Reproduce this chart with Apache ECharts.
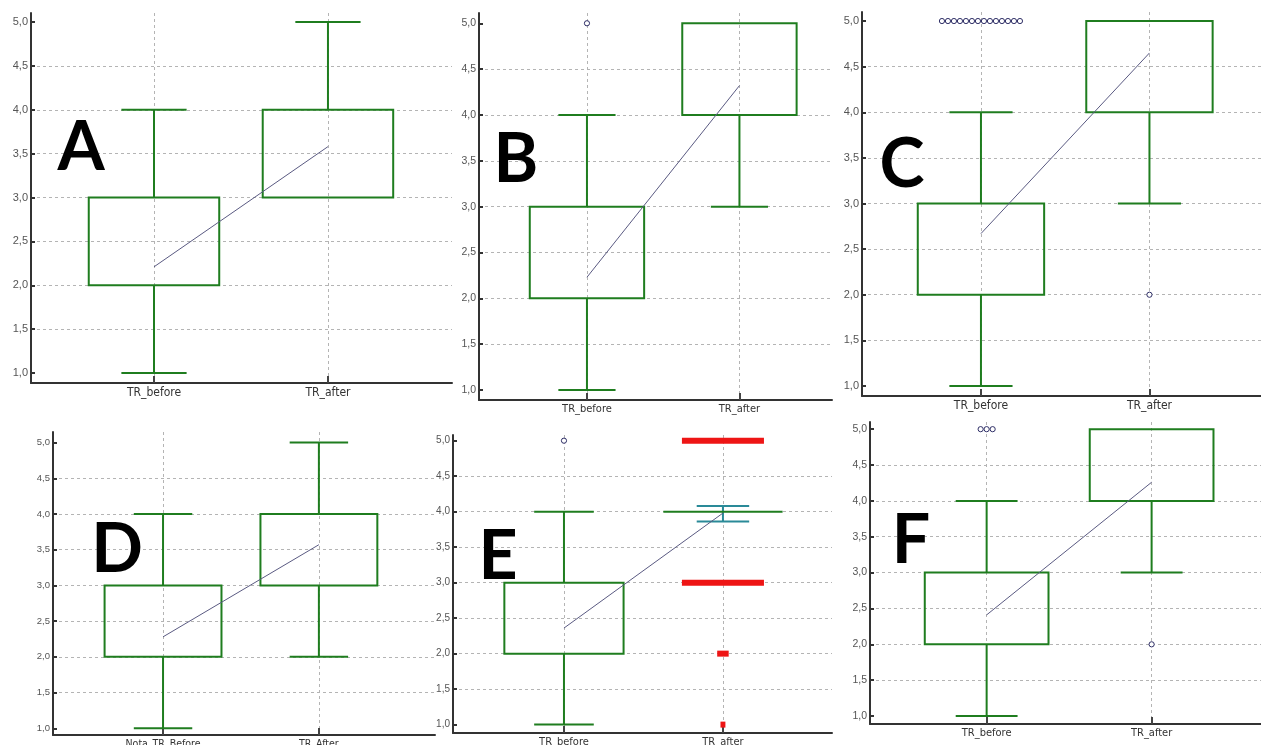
<!DOCTYPE html>
<html>
<head>
<meta charset="utf-8">
<script src="https://cdn.jsdelivr.net/npm/echarts@6/dist/echarts.min.js"></script>
<style>
html,body{margin:0;padding:0;background:#fff;}
#chart{width:1261px;height:745px;}
</style>
</head>
<body>
<div id="chart"></div>
<script>
// ---------- DATA ----------
const panelLetters = ['A', 'B', 'C', 'D', 'E', 'F'];
const categoriesA = ['TR_before', 'TR_after'];
const categoriesB = ['TR_before', 'TR_after'];
const categoriesC = ['TR_before', 'TR_after'];
const categoriesD = ['Nota_TR_Before', 'TR_After'];
const categoriesE = ['TR_before', 'TR_after'];
const categoriesF = ['TR_before', 'TR_after'];

const yTicks = [1.0, 1.5, 2.0, 2.5, 3.0, 3.5, 4.0, 4.5, 5.0];
const yTickLabels = ['1,0', '1,5', '2,0', '2,5', '3,0', '3,5', '4,0', '4,5', '5,0'];

// box stats: [lower whisker, Q1, Q3, upper whisker]
const boxA_before = [1, 2, 3, 4];
const boxA_after  = [3, 3, 4, 5];
const boxB_before = [1, 2, 3, 4];
const boxB_after  = [3, 4, 5, 5];
const boxC_before = [1, 2, 3, 4];
const boxC_after  = [3, 4, 5, 5];
const boxD_before = [1, 2, 3, 4];
const boxD_after  = [2, 3, 4, 5];
const boxE_before = [1, 2, 3, 4];
const boxE_after  = [4, 4, 4, 4];
const boxF_before = [1, 2, 3, 4];
const boxF_after  = [3, 4, 5, 5];

// means (before, after)
const meanA = [2.21, 3.58];
const meanB = [2.23, 4.32];
const meanC = [2.67, 4.65];
const meanD = [2.28, 3.57];
const meanE = [2.36, 3.98];
const meanF = [2.41, 4.26];

// outliers
const outA_before = [];
const outA_after  = [];
const outB_before = [5];
const outB_after  = [];
const outC_before = [5, 5, 5, 5, 5, 5, 5, 5, 5, 5, 5, 5, 5, 5];
const outC_after  = [2];
const outD_before = [];
const outD_after  = [];
const outE_before = [5];
const outE_after  = [];
const outF_before = [5, 5, 5];
const outF_after  = [2];

// panel E, TR_after: red frequency bars and confidence interval
const redE_values  = [5, 3, 2, 1];
const redE_weights = [1, 1, 0.14, 0.06];
const ciE_after = [3.86, 4.08];

// ---------- LAYOUT / STYLE ----------
const GREEN = '#1f7d1f';
const MEANC = '#5a5a82';
const RED = '#ee1515';
const TEAL = '#2a8a98';
const GRIDC = '#b4b4b4';

const layouts = [
  {left: 31,  top: 13,  width: 421, height: 370, xr: [0.293, 2.713], yr: [0.886, 5.103], fy: 11, fx: 12, letter: [81, 148]},
  {left: 479, top: 13,  width: 353, height: 387, xr: [0.292, 2.607], yr: [0.891, 5.112], fy: 10.5, fx: 11, letter: [516, 160]},
  {left: 862, top: 12,  width: 399, height: 384, xr: [0.294, 2.662], yr: [0.890, 5.099], fy: 11, fx: 12, letter: [902, 165]},
  {left: 53,  top: 432, width: 382, height: 303, xr: [0.294, 2.745], yr: [0.906, 5.148], fy: 9.5, fx: 10.5, letter: [117, 550]},
  {left: 453, top: 435, width: 379, height: 298, xr: [0.302, 2.686], yr: [0.882, 5.080], fy: 10, fx: 11, letter: [498, 557]},
  {left: 870, top: 422, width: 391, height: 302, xr: [0.293, 2.663], yr: [0.889, 5.100], fy: 10.5, fx: 11, letter: [911, 541]}
];

const panelData = [
  {cats: categoriesA, boxes: [boxA_before, boxA_after], mean: meanA, outs: [outA_before, outA_after]},
  {cats: categoriesB, boxes: [boxB_before, boxB_after], mean: meanB, outs: [outB_before, outB_after]},
  {cats: categoriesC, boxes: [boxC_before, boxC_after], mean: meanC, outs: [outC_before, outC_after]},
  {cats: categoriesD, boxes: [boxD_before, boxD_after], mean: meanD, outs: [outD_before, outD_after]},
  {cats: categoriesE, boxes: [boxE_before, boxE_after], mean: meanE, outs: [outE_before, outE_after]},
  {cats: categoriesF, boxes: [boxF_before, boxF_after], mean: meanF, outs: [outF_before, outF_after]}
];

const NARROW = "'Liberation Sans Narrow', 'Arial Narrow', 'DejaVu Sans Condensed', sans-serif";
const REG = "'Liberation Sans', Arial, sans-serif";

function renderBox(params, api) {
  const x = api.value(0), lo = api.value(1), q1 = api.value(2), q3 = api.value(3), hi = api.value(4);
  const hw = 0.375, cw = 0.1875;
  const st = {stroke: GREEN, lineWidth: 2, fill: null};
  const ch = [];
  const a = api.coord([x - hw, q3]), b = api.coord([x + hw, q1]);
  if (q3 > q1) {
    ch.push({type: 'rect', shape: {x: a[0], y: a[1], width: b[0] - a[0], height: b[1] - a[1]}, style: st});
  } else {
    ch.push({type: 'line', shape: {x1: a[0], y1: a[1], x2: b[0], y2: a[1]}, style: st});
  }
  const seg = (p1, p2) => ch.push({type: 'line', shape: {x1: p1[0], y1: p1[1], x2: p2[0], y2: p2[1]}, style: st});
  if (hi > q3) {
    seg(api.coord([x, q3]), api.coord([x, hi]));
    seg(api.coord([x - cw, hi]), api.coord([x + cw, hi]));
  }
  if (lo < q1) {
    seg(api.coord([x, q1]), api.coord([x, lo]));
    seg(api.coord([x - cw, lo]), api.coord([x + cw, lo]));
  }
  return {type: 'group', children: ch};
}

function renderOutlier(params, api) {
  const p = api.coord([api.value(0), api.value(1)]);
  const k = api.value(2), n = api.value(3);
  const off = (k - (n - 1) / 2) * 6;
  return {type: 'circle', shape: {cx: p[0] + off, cy: p[1], r: 2.6},
    style: {stroke: '#2e2e66', lineWidth: 1, fill: '#fff'}};
}

function renderRed(params, api) {
  const x = api.value(0), v = api.value(1), w = api.value(2) * 0.516;
  const a = api.coord([x - w / 2, v]), b = api.coord([x + w / 2, v]);
  const hgt = 6;
  return {type: 'rect', shape: {x: a[0], y: a[1] - hgt / 2, width: Math.max(b[0] - a[0], 4), height: hgt},
    style: {fill: RED}};
}

function renderCI(params, api) {
  const x = api.value(0), lo = api.value(1), hi = api.value(2);
  const cw = 0.165;
  const st = {stroke: TEAL, lineWidth: 2};
  const L = (p1, p2) => ({type: 'line', shape: {x1: p1[0], y1: p1[1], x2: p2[0], y2: p2[1]}, style: st});
  return {type: 'group', children: [
    L(api.coord([x, lo]), api.coord([x, hi])),
    L(api.coord([x - cw, lo]), api.coord([x + cw, lo])),
    L(api.coord([x - cw, hi]), api.coord([x + cw, hi]))
  ]};
}

function outlierItems(x, arr) {
  const groups = {};
  arr.forEach(v => { (groups[v] = groups[v] || []).push(v); });
  const items = [];
  Object.keys(groups).forEach(key => {
    const g = groups[key];
    g.forEach((v, k) => items.push([x, v, k, g.length]));
  });
  return items;
}

const grids = [], xAxes = [], yAxes = [], series = [], graphics = [];

layouts.forEach((L, i) => {
  const P = panelData[i];
  grids.push({left: L.left, top: L.top, width: L.width, height: L.height, containLabel: false, outerBoundsMode: 'none'});
  xAxes.push({
    type: 'value', gridIndex: i, min: L.xr[0], max: L.xr[1],
    axisLine: {show: true, onZero: false, lineStyle: {color: '#333', width: 2}},
    axisTick: {show: true, inside: true, length: 7, customValues: [1, 2], lineStyle: {color: '#444', width: 2}},
    axisLabel: {customValues: [1, 2], formatter: v => P.cats[Math.round(v) - 1], color: '#333',
      fontSize: L.fx, fontFamily: NARROW, margin: 4},
    splitLine: {show: true, lineStyle: {color: GRIDC, type: [3, 3], width: 1}}
  });
  yAxes.push({
    type: 'value', gridIndex: i, min: L.yr[0], max: L.yr[1],
    axisLine: {show: true, onZero: false, lineStyle: {color: '#333', width: 2}},
    axisTick: {show: true, inside: true, length: 4, customValues: yTicks, lineStyle: {color: '#333', width: 2}},
    axisLabel: {customValues: yTicks, formatter: v => yTickLabels[yTicks.indexOf(Math.round(v * 2) / 2)],
      color: '#555', fontSize: L.fy, fontFamily: REG, margin: 3},
    splitLine: {show: true, showMinLine: false, showMaxLine: false, lineStyle: {color: GRIDC, type: [3, 3], width: 1}}
  });
  series.push({
    type: 'custom', xAxisIndex: i, yAxisIndex: i, renderItem: renderBox, z: 3, silent: true,
    data: P.boxes.map((b, k) => [k + 1].concat(b))
  });
  series.push({
    type: 'line', xAxisIndex: i, yAxisIndex: i, symbol: 'none', z: 4, silent: true,
    lineStyle: {color: MEANC, width: 1},
    data: P.mean.map((m, k) => [k + 1, m])
  });
  const outs = outlierItems(1, P.outs[0]).concat(outlierItems(2, P.outs[1]));
  if (outs.length) {
    series.push({type: 'custom', xAxisIndex: i, yAxisIndex: i, renderItem: renderOutlier, z: 5, silent: true, data: outs});
  }
  graphics.push({
    type: 'text', x: L.letter[0], y: L.letter[1], z: 100,
    style: {text: panelLetters[i], font: "bold 68px Lato, 'Liberation Sans', sans-serif", fill: '#000',
      textAlign: 'center', textVerticalAlign: 'middle',
      shadowBlur: 5, shadowColor: 'rgba(0,0,0,0.35)', shadowOffsetX: 3, shadowOffsetY: 3}
  });
});

// panel E extras
series.push({
  type: 'custom', xAxisIndex: 4, yAxisIndex: 4, renderItem: renderRed, z: 6, silent: true,
  data: redE_values.map((v, k) => [2, v, redE_weights[k]])
});
series.push({
  type: 'custom', xAxisIndex: 4, yAxisIndex: 4, renderItem: renderCI, z: 2, silent: true,
  data: [[2, ciE_after[0], ciE_after[1]]]
});

const chart = echarts.init(document.getElementById('chart'), null, {renderer: 'canvas'});
chart.setOption({
  animation: false,
  backgroundColor: '#fff',
  grid: grids, xAxis: xAxes, yAxis: yAxes, series: series, graphic: graphics
});
</script>
</body>
</html>
